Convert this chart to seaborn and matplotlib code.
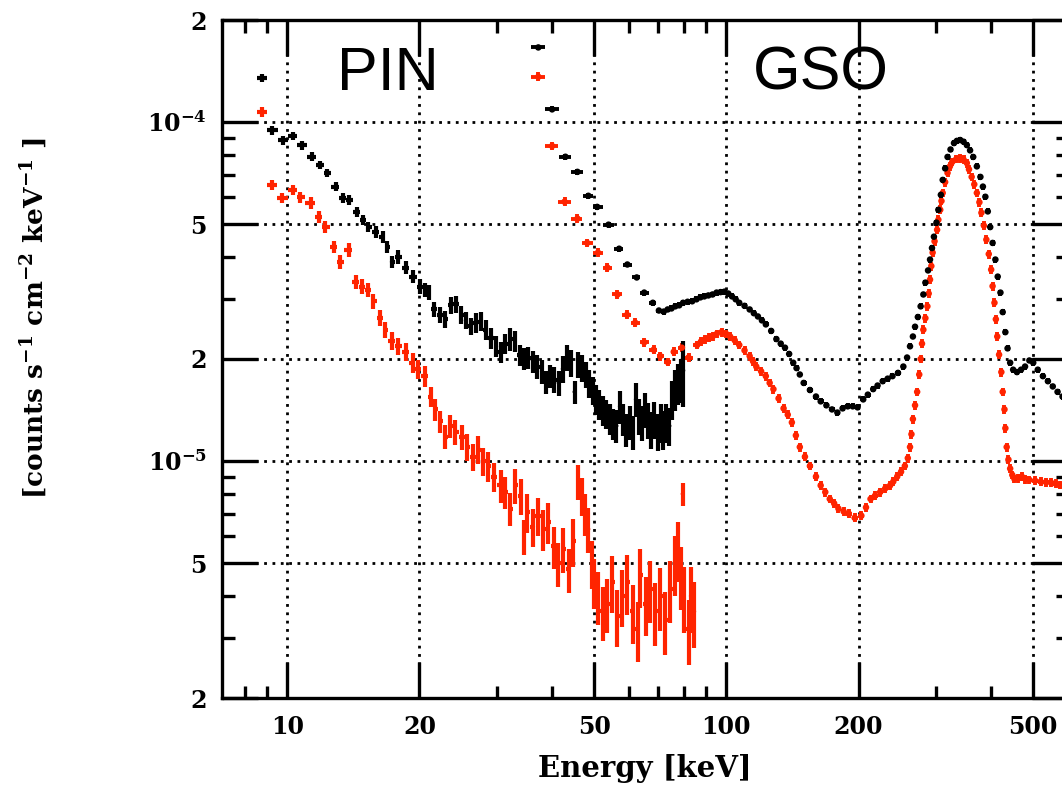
import numpy as np
import pandas as pd
import matplotlib
matplotlib.use("Agg")
import matplotlib.pyplot as plt
import seaborn as sns
from matplotlib.ticker import FixedLocator, FixedFormatter, NullFormatter

# ---------------------------------------------------------------------------
# Spectra: energy [keV], flux [1e-5 counts s^-1 cm^-2 keV^-1]
# ---------------------------------------------------------------------------
pin_black_e = [
    8.75, 9.25, 9.8, 10.3, 10.8, 11.4, 11.9, 12.3, 12.9, 13.4,
    13.8, 14.4, 14.9, 15.3, 15.9, 16.5, 16.9, 17.3, 17.9, 18.6,
    19.3, 20.1, 20.6, 21.0, 21.6, 22.3, 22.9, 23.6, 24.2, 24.9,
    25.5, 26.2, 26.9, 27.6, 28.3, 29.1, 29.9, 30.6, 31.4, 32.2,
    33.0, 33.8, 34.6, 35.4, 36.3, 37.1, 38.0, 38.8, 39.7, 40.6,
    41.5, 42.4, 43.3, 44.2, 45.1, 46.0, 46.9, 47.8, 48.7, 49.6,
    50.5, 51.4, 52.4, 53.3, 54.3, 55.2, 56.2, 57.2, 58.2, 59.2,
    60.2, 61.2, 62.2, 63.2, 64.3, 65.3, 66.4, 67.5, 68.6, 69.7,
    70.8, 71.9, 73.0, 74.2, 75.3, 76.4, 77.5, 78.7, 79.8,
]
pin_black_f = [
    13.5, 9.47, 8.85, 9.1, 8.55, 7.9, 7.47, 7.08, 6.44, 5.98,
    5.9, 5.44, 5.15, 4.9, 4.75, 4.59, 4.29, 3.87, 4.0, 3.72,
    3.5, 3.27, 3.2, 3.14, 2.80, 2.70, 2.62, 2.88, 2.90, 2.70,
    2.60, 2.50, 2.56, 2.58, 2.44, 2.30, 2.18, 2.10, 2.22, 2.29,
    2.26, 2.05, 2.00, 2.02, 1.97, 1.90, 1.84, 1.71, 1.78, 1.74,
    1.70, 1.87, 2.02, 1.95, 1.60, 1.93, 1.88, 1.80, 1.70, 1.62,
    1.52, 1.47, 1.41, 1.38, 1.33, 1.29, 1.27, 1.45, 1.33, 1.24,
    1.30, 1.22, 1.52, 1.36, 1.30, 1.42, 1.32, 1.24, 1.33, 1.22,
    1.30, 1.24, 1.30, 1.27, 1.52, 1.63, 1.70, 1.74, 1.85,
]
pin_black_rel = [
    0.03, 0.03, 0.03, 0.03, 0.03, 0.03, 0.03, 0.03, 0.03, 0.035,
    0.035, 0.035, 0.035, 0.035, 0.04, 0.04, 0.04, 0.04, 0.045, 0.045,
    0.045, 0.05, 0.05, 0.05, 0.05, 0.055, 0.055, 0.055, 0.06, 0.06,
    0.06, 0.06, 0.065, 0.065, 0.065, 0.07, 0.07, 0.07, 0.07, 0.08,
    0.07, 0.07, 0.075, 0.075, 0.075, 0.08, 0.08, 0.08, 0.08, 0.085,
    0.085, 0.09, 0.09, 0.09, 0.08, 0.09, 0.09, 0.09, 0.095, 0.095,
    0.10, 0.10, 0.10, 0.10, 0.105, 0.105, 0.11, 0.11, 0.11, 0.11,
    0.115, 0.115, 0.115, 0.12, 0.12, 0.12, 0.12, 0.125, 0.125, 0.125,
    0.13, 0.13, 0.13, 0.13, 0.13, 0.14, 0.14, 0.15, 0.22,
]

pin_red_e = [
    8.75, 9.25, 9.75, 10.3, 10.7, 11.3, 11.8, 12.2, 12.8, 13.2,
    13.8, 14.3, 14.8, 15.3, 15.7, 16.3, 16.7, 17.3, 17.9, 18.6,
    19.3, 19.8, 20.6, 21.2, 21.7, 22.3, 22.9, 23.5, 24.1, 25.0,
    25.7, 26.5, 27.2, 27.9, 28.7, 29.5, 30.6, 31.4, 32.2, 33.0,
    34.0, 34.6, 35.2, 36.3, 37.2, 38.3, 39.3, 40.4, 41.4, 42.5,
    43.7, 44.8, 46.0, 46.9, 47.7, 48.5, 49.4, 49.9, 51.0, 52.3,
    53.6, 55.0, 56.5, 58.0, 59.5, 61.2, 62.8, 63.6, 65.5, 67.1,
    68.9, 70.7, 72.6, 74.6, 76.5, 77.6, 78.8, 79.5, 80.0, 82.0,
    83.0, 84.5,
]
pin_red_f = [
    10.7, 6.52, 5.98, 6.30, 6.00, 5.78, 5.26, 4.90, 4.29, 3.87,
    4.20, 3.38, 3.27, 3.20, 2.96, 2.65, 2.44, 2.26, 2.18, 2.10,
    1.95, 1.87, 1.78, 1.55, 1.42, 1.31, 1.18, 1.27, 1.22, 1.18,
    1.10, 1.03, 1.08, 1.00, 0.967, 0.90, 0.847, 0.81, 0.724, 0.847,
    0.79, 0.60, 0.707, 0.64, 0.69, 0.63, 0.66, 0.56, 0.50, 0.55,
    0.48, 0.58, 0.87, 0.79, 0.70, 0.63, 0.50, 0.44, 0.40, 0.36,
    0.38, 0.44, 0.35, 0.40, 0.44, 0.36, 0.32, 0.46, 0.38, 0.42,
    0.36, 0.40, 0.34, 0.42, 0.50, 0.55, 0.46, 0.80, 0.40, 0.32,
    0.40, 0.36,
]
pin_red_rel = [
    0.035, 0.035, 0.035, 0.035, 0.035, 0.04, 0.04, 0.04, 0.04, 0.045,
    0.045, 0.045, 0.05, 0.05, 0.05, 0.055, 0.055, 0.06, 0.06, 0.06,
    0.065, 0.065, 0.07, 0.07, 0.075, 0.075, 0.08, 0.08, 0.085, 0.085,
    0.09, 0.09, 0.095, 0.095, 0.10, 0.10, 0.11, 0.11, 0.11, 0.12,
    0.12, 0.12, 0.13, 0.13, 0.13, 0.14, 0.14, 0.14, 0.15, 0.15,
    0.15, 0.16, 0.12, 0.13, 0.14, 0.15, 0.16, 0.17, 0.18, 0.18,
    0.18, 0.19, 0.19, 0.19, 0.20, 0.20, 0.20, 0.20, 0.20, 0.21,
    0.21, 0.21, 0.21, 0.21, 0.20, 0.20, 0.21, 0.08, 0.22, 0.22,
    0.22, 0.22,
]

gso_black_e = [
    37.3, 40.1, 43.0, 45.8, 48.5, 50.8, 53.9, 57.0, 59.5, 62.5,
    65.0, 68.0, 70.2, 72.0, 73.5, 75.0, 76.5, 78.1, 79.7, 81.6,
    83.6, 85.5, 87.3, 89.1, 91.0, 93.0, 95.0, 97.0, 99.0, 101,
    103, 105, 107, 110, 113, 115.5, 118, 120.5, 123, 126.5,
    130, 133, 136, 139, 142, 144.5, 147, 150, 155, 160,
    164, 169, 174, 179, 184, 189, 194, 199, 205, 210,
    216, 221, 227, 233, 239, 246, 253, 258, 262, 266,
    269, 273, 277, 281, 284, 288, 291, 294, 297, 301,
    304, 308, 311, 315, 319, 324, 330, 335, 341, 347,
    353, 359, 365, 372, 379, 384, 389, 394, 399, 404,
    410, 415, 421, 426, 432, 437, 443, 450, 459, 469,
    479, 490, 500, 512, 526, 540, 554, 568, 583,
]
gso_black_f = [
    16.6, 10.9, 7.9, 7.13, 6.06, 5.62, 4.98, 4.23, 3.80, 3.48,
    3.14, 2.93, 2.78, 2.76, 2.80, 2.82, 2.86, 2.88, 2.93, 2.95,
    2.96, 3.00, 3.04, 3.06, 3.08, 3.10, 3.14, 3.15, 3.16, 3.12,
    3.06, 3.00, 2.93, 2.87, 2.80, 2.73, 2.67, 2.60, 2.53, 2.42,
    2.29, 2.22, 2.16, 2.07, 1.95, 1.88, 1.80, 1.70, 1.62, 1.55,
    1.50, 1.46, 1.42, 1.39, 1.43, 1.45, 1.45, 1.44, 1.52, 1.57,
    1.63, 1.67, 1.72, 1.75, 1.78, 1.82, 1.90, 2.02, 2.18, 2.33,
    2.49, 2.66, 2.86, 3.10, 3.36, 3.65, 3.93, 4.25, 4.59, 5.05,
    5.51, 6.10, 6.75, 7.30, 7.89, 8.30, 8.67, 8.80, 8.85, 8.75,
    8.55, 8.25, 7.89, 7.40, 6.89, 6.45, 6.02, 5.45, 4.90, 4.40,
    3.93, 3.50, 3.14, 2.75, 2.40, 2.15, 1.95, 1.86, 1.83, 1.86,
    1.90, 1.98, 1.95, 1.86, 1.78, 1.72, 1.66, 1.60, 1.55,
]
gso_black_rel = 0.02

gso_red_e = [
    37.3, 40.1, 42.8, 45.8, 48.2, 51.0, 53.6, 56.5, 59.4, 62.0,
    65.0, 68.3, 70.7, 73.5, 75.9, 79.2, 82.0, 85.8, 87.5, 89.5,
    91.5, 93.0, 95.0, 97.5, 100, 102, 104.5, 107, 110, 113,
    115, 117, 120, 123, 125.5, 128, 131.5, 135, 138, 141,
    144, 147, 151, 155, 160, 164, 168, 172, 176, 180,
    185, 190, 196, 203, 208, 213, 218, 224, 230, 236,
    240, 245, 250, 255, 259, 262, 264, 266, 269, 272,
    275, 277, 279, 281, 284, 287, 289, 291, 293, 295,
    298, 302, 304, 307, 309, 311, 315, 319, 323, 327,
    334, 341, 347, 353, 357, 362, 367, 372, 377, 381,
    386, 391, 396, 401, 404, 408, 411, 414, 418, 423,
    426, 430, 432, 435, 439, 443, 448, 453, 462, 471,
    480, 490, 505, 520, 535, 549, 562, 576, 590,
]
gso_red_f = [
    13.6, 8.5, 5.82, 5.19, 4.40, 4.12, 3.72, 3.10, 2.70, 2.56,
    2.24, 2.13, 2.04, 1.96, 2.10, 2.16, 2.02, 2.20, 2.25, 2.29,
    2.31, 2.33, 2.37, 2.40, 2.37, 2.33, 2.27, 2.20, 2.12, 2.04,
    1.97, 1.90, 1.84, 1.78, 1.70, 1.63, 1.53, 1.43, 1.37, 1.30,
    1.19, 1.10, 1.03, 0.967, 0.90, 0.847, 0.81, 0.773, 0.75, 0.724,
    0.71, 0.70, 0.68, 0.69, 0.73, 0.773, 0.79, 0.81, 0.83, 0.847,
    0.87, 0.90, 0.93, 0.967, 1.02, 1.10, 1.20, 1.33, 1.46, 1.60,
    1.80, 2.00, 2.22, 2.44, 2.64, 2.86, 3.12, 3.43, 3.76, 4.12,
    4.45, 4.81, 5.15, 5.51, 5.85, 6.18, 6.65, 7.08, 7.40, 7.63,
    7.78, 7.83, 7.75, 7.57, 7.25, 6.89, 6.55, 6.18, 5.80, 5.40,
    4.95, 4.50, 4.08, 3.67, 3.28, 2.93, 2.62, 2.33, 2.06, 1.83,
    1.60, 1.42, 1.25, 1.10, 1.01, 0.95, 0.91, 0.886, 0.89, 0.90,
    0.885, 0.88, 0.875, 0.87, 0.865, 0.864, 0.858, 0.85, 0.845,
]
gso_red_rel = 0.03

FLUX_UNIT = 1e-5
BLACK = "#000000"
RED = "#ff2400"

x_major = [10, 20, 50, 100, 200, 500]
x_major_labels = ["10", "20", "50", "100", "200", "500"]
x_minor = [8, 9, 30, 40, 60, 70, 80, 90, 300, 400, 600]
y_major = [2e-6, 5e-6, 1e-5, 2e-5, 5e-5, 1e-4, 2e-4]
y_major_labels = ["2", "5", r"$\mathbf{10^{-5}}$", "2", "5",
                  r"$\mathbf{10^{-4}}$", "2"]
y_minor = [3e-6, 4e-6, 6e-6, 7e-6, 8e-6, 9e-6,
           3e-5, 4e-5, 6e-5, 7e-5, 8e-5, 9e-5]


def bin_halfwidths(e):
    """Lower/upper half widths of log-spaced bins centred on e."""
    e = np.asarray(e, dtype=float)
    edges = np.sqrt(e[1:] * e[:-1])
    lo = np.r_[e[0] ** 2 / edges[0], edges]
    hi = np.r_[edges, e[-1] ** 2 / edges[-1]]
    return np.vstack([e - lo, hi - e])


def make_frame(e, f, rel, detector, tone):
    f = np.asarray(f, dtype=float) * FLUX_UNIT
    rel = np.broadcast_to(np.asarray(rel, dtype=float), f.shape)
    return pd.DataFrame({
        "energy": np.asarray(e, dtype=float),
        "flux": f,
        "ferr": f * rel,
        "detector": detector,
        "tone": tone,
    })


frames = [
    make_frame(gso_red_e, gso_red_f, gso_red_rel, "GSO", "red"),
    make_frame(gso_black_e, gso_black_f, gso_black_rel, "GSO", "black"),
    make_frame(pin_red_e, pin_red_f, pin_red_rel, "PIN", "red"),
    make_frame(pin_black_e, pin_black_f, pin_black_rel, "PIN", "black"),
]
spectra = pd.concat(frames, ignore_index=True)
palette = {"black": BLACK, "red": RED}

sns.set_style("ticks")
plt.rcParams.update({
    "font.family": ["DejaVu Serif"],
    "font.weight": "bold",
    "axes.labelweight": "bold",
    "mathtext.fontset": "dejavuserif",
    "axes.linewidth": 2.4,
    "axes.edgecolor": "black",
    "text.color": "black",
    "axes.labelcolor": "black",
    "xtick.color": "black",
    "ytick.color": "black",
})

fig = plt.figure(figsize=(10.62, 7.87), dpi=100)
ax = fig.add_axes([222 / 1062, 89 / 787, 846 / 1062, 678 / 787])
ax.set_xscale("log")
ax.set_yscale("log")

# error bars: bin width along energy, statistical error along flux
for (det, tone), grp in spectra.groupby(["detector", "tone"], sort=False):
    ax.errorbar(grp["energy"], grp["flux"],
                xerr=bin_halfwidths(grp["energy"]), yerr=grp["ferr"],
                fmt="none", ecolor=palette[tone],
                elinewidth=3.0 if det == "PIN" else 2.8,
                capsize=0, zorder=3)

sns.scatterplot(data=spectra[spectra["detector"] == "GSO"],
                x="energy", y="flux", hue="tone", palette=palette,
                s=22, linewidth=0, legend=False, ax=ax, zorder=4)
sns.scatterplot(data=spectra[spectra["detector"] == "PIN"],
                x="energy", y="flux", hue="tone", palette=palette,
                s=8, linewidth=0, legend=False, ax=ax, zorder=5)

ax.set_xlim(7.1, 600)
ax.set_ylim(2e-6, 2e-4)

ax.xaxis.set_major_locator(FixedLocator(x_major))
ax.xaxis.set_major_formatter(FixedFormatter(x_major_labels))
ax.xaxis.set_minor_locator(FixedLocator(x_minor))
ax.xaxis.set_minor_formatter(NullFormatter())
ax.yaxis.set_major_locator(FixedLocator(y_major))
ax.yaxis.set_major_formatter(FixedFormatter(y_major_labels))
ax.yaxis.set_minor_locator(FixedLocator(y_minor))
ax.yaxis.set_minor_formatter(NullFormatter())

ax.tick_params(which="both", direction="in", top=True, right=True,
               labeltop=False, labelright=False, width=2.4, color="black",
               labelcolor="black")
ax.tick_params(which="major", length=26, labelsize=17)
ax.tick_params(which="minor", length=9)
ax.tick_params(axis="x", which="major", pad=12)
ax.tick_params(axis="y", which="major", pad=11)

ax.set_axisbelow(True)
ax.grid(True, which="major", color="black", linestyle=(0, (1, 2)),
        linewidth=2.0)
ax.grid(False, which="minor")
for sp in ax.spines.values():
    sp.set_linewidth(2.4)
    sp.set_color("black")

ax.set_xlabel("Energy [keV]", fontsize=21, fontweight="bold", color="black")
ax.xaxis.set_label_coords(0.5, -0.083)
ax.set_ylabel(r"[counts s$^{\mathbf{-1}}$ cm$^{\mathbf{-2}}$ keV$^{\mathbf{-1}}$ ]",
              fontsize=19, fontweight="bold", color="black")
ax.yaxis.set_label_coords(-0.203, 0.56)

for label, xpix in (("PIN", 388), ("GSO", 821)):
    fig.text(xpix / 1062, 1 - 90 / 787, label, fontsize=44,
             family=["Liberation Sans", "DejaVu Sans"], fontweight="normal",
             ha="center", va="baseline", color="black")

fig.savefig("out.png", dpi=100, facecolor="white")
